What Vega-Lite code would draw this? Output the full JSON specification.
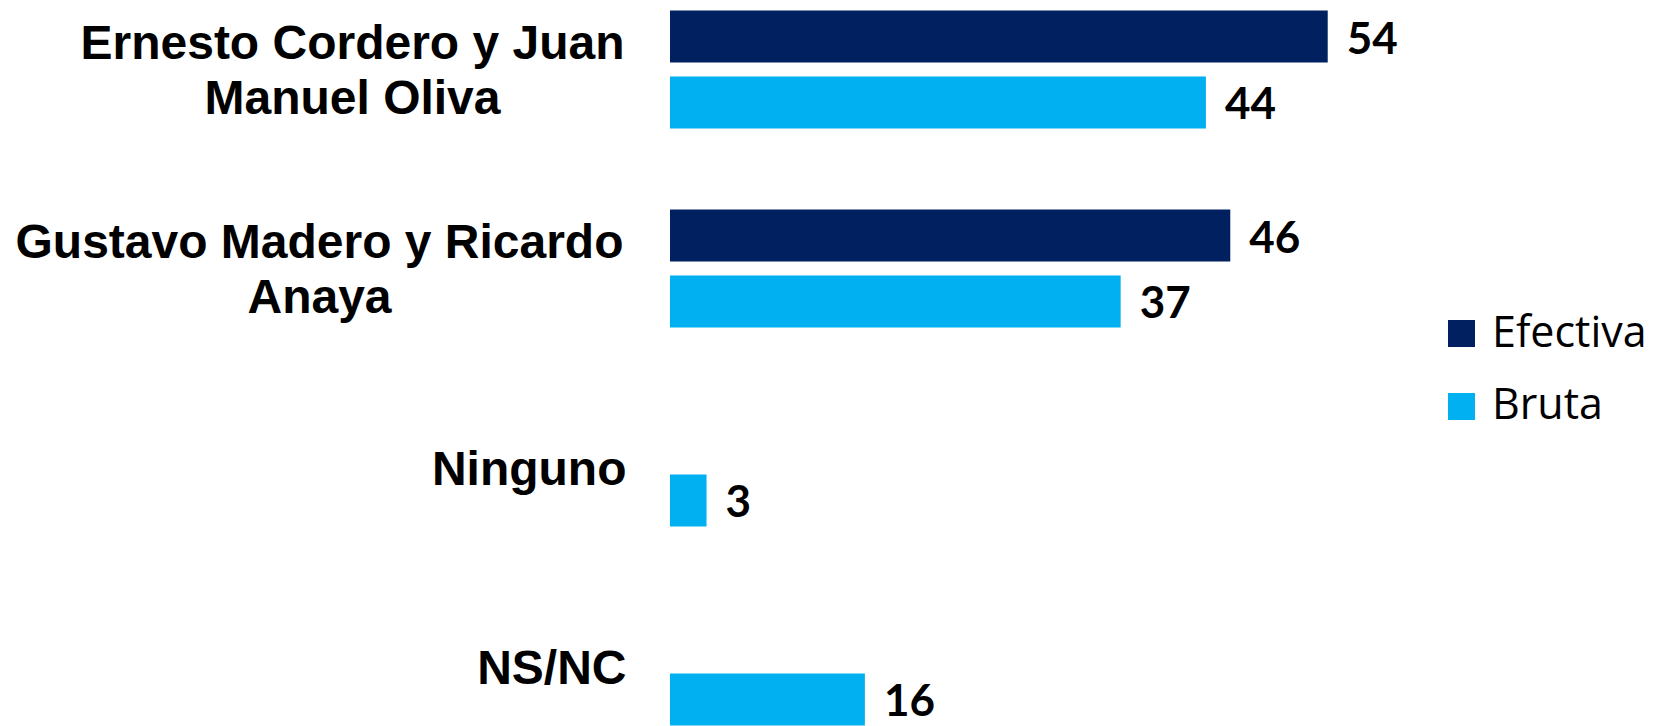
{
  "$schema": "https://vega.github.io/schema/vega-lite/v6.json",
  "autosize": {"type": "none"},
  "padding": {"left": 670, "top": -30, "right": 258, "bottom": -40},
  "width": 730.8,
  "height": 796,
  "background": "white",
  "data": {
    "values": [
      {"grupo": "Ernesto Cordero y Juan Manuel Oliva", "serie": "Efectiva", "valor": 54},
      {"grupo": "Ernesto Cordero y Juan Manuel Oliva", "serie": "Bruta", "valor": 44},
      {"grupo": "Gustavo Madero y Ricardo Anaya", "serie": "Efectiva", "valor": 46},
      {"grupo": "Gustavo Madero y Ricardo Anaya", "serie": "Bruta", "valor": 37},
      {"grupo": "Ninguno", "serie": "Bruta", "valor": 3},
      {"grupo": "NS/NC", "serie": "Bruta", "valor": 16}
    ]
  },
  "encoding": {
    "y": {
      "field": "grupo",
      "type": "nominal",
      "sort": ["Ernesto Cordero y Juan Manuel Oliva", "Gustavo Madero y Ricardo Anaya", "Ninguno", "NS/NC"],
      "scale": {"paddingInner": 0, "paddingOuter": 0},
      "axis": {
        "title": null,
        "domain": false,
        "ticks": false,
        "tickSize": 0,
        "labelFont": "Liberation Sans",
        "labelFontWeight": "bold",
        "labelFontSize": 48,
        "labelColor": "black",
        "labelLineHeight": 56,
        "labelLimit": 1000,
        "labelExpr": "datum.value == 'Ernesto Cordero y Juan Manuel Oliva' ? ['Ernesto Cordero y Juan', 'Manuel Oliva'] : datum.value == 'Gustavo Madero y Ricardo Anaya' ? ['Gustavo Madero y Ricardo', 'Anaya'] : datum.value",
        "labelAlign": {"condition": {"test": "indexof(datum.value, ' y ') >= 0", "value": "center"}, "value": "right"},
        "labelOffset": {"condition": {"test": "indexof(datum.value, ' y ') >= 0", "value": -25}, "value": 4},
        "labelPadding": {"condition": [
          {"test": "datum.value == 'Ernesto Cordero y Juan Manuel Oliva'", "value": 318},
          {"test": "datum.value == 'Gustavo Madero y Ricardo Anaya'", "value": 351}
        ], "value": 44}
      }
    },
    "yOffset": {
      "field": "serie",
      "type": "nominal",
      "scale": {"domain": ["Efectiva", "Bruta"], "paddingInner": 0.212, "paddingOuter": 0.614}
    },
    "x": {
      "field": "valor",
      "type": "quantitative",
      "scale": {"domain": [0, 60], "nice": false},
      "axis": null
    }
  },
  "layer": [
    {
      "mark": {"type": "bar"},
      "encoding": {
        "color": {
          "field": "serie",
          "type": "nominal",
          "scale": {"domain": ["Efectiva", "Bruta"], "range": ["#002060", "#00B0F0"]},
          "legend": {
            "title": null,
            "orient": "none",
            "legendX": 770,
            "legendY": 342,
            "padding": 0,
            "symbolType": "square",
            "symbolSize": 729,
            "symbolStrokeWidth": 0,
            "labelFont": "Open Sans",
            "labelFontSize": 43,
            "labelColor": "black",
            "labelOffset": 9,
            "rowPadding": 29,
            "labelLimit": 500
          }
        }
      }
    },
    {
      "mark": {"type": "text", "align": "left", "baseline": "middle", "dx": 19, "dy": 4, "font": "Lato", "fontWeight": "bold", "fontSize": 44, "color": "black"},
      "encoding": {
        "text": {"field": "valor", "type": "quantitative"}
      }
    }
  ],
  "config": {"view": {"stroke": null}}
}
